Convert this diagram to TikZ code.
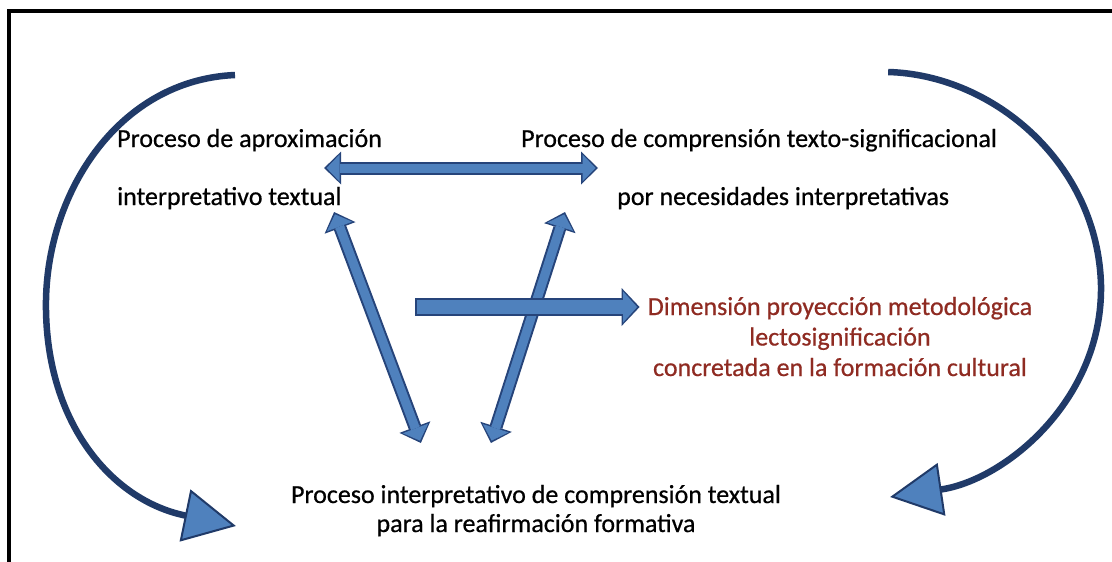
\documentclass[tikz,border=0pt]{standalone}
\usepackage{fontspec}
\setmainfont{Carlito}[FakeBold=0.6]
\usepackage{tikz}
\usetikzlibrary{arrows.meta}
\usetikzlibrary{calc}
\usetikzlibrary{positioning}

\definecolor{arcnavy}{RGB}{32,58,104}
\definecolor{boxblue}{RGB}{79,129,189}
\definecolor{edgeblue}{RGB}{38,68,122}
\definecolor{labelred}{RGB}{143,43,34}

\tikzset{proctext/.style = {inner sep=0pt, align=left,
                            font=\fontsize{26}{58}\selectfont}}
\tikzset{twoway/.style = {draw=edgeblue, line width=13pt,
                          {Triangle[length=17pt, width=33pt, line width'=0pt]}-{Triangle[length=17pt, width=33pt, line width'=0pt]},
                          postaction={draw=boxblue, line width=9pt, shorten <=2.5pt, shorten >=2.5pt,
                                      {Triangle[length=13pt, width=27pt, line width'=0pt]}-{Triangle[length=13pt, width=27pt, line width'=0pt]}}}}
\tikzset{oneway/.style = {draw=edgeblue, line width=18pt,
                          -{Triangle[length=18pt, width=38pt, line width'=0pt]},
                          postaction={draw=boxblue, line width=14pt, shorten <=2pt, shorten >=2.5pt,
                                      -{Triangle[length=14pt, width=31pt, line width'=0pt]}}}}
\tikzset{sweep/.style = {draw=arcnavy, line width=6.5pt,
                         -{Triangle[length=52pt, width=53pt, fill=boxblue, line width'=2pt]}}}

\begin{document}
\begin{tikzpicture}[x=1pt, y=-1pt]
      \useasboundingbox (0,0) rectangle (1112,562);
      \draw [line width=4pt] (9,562) -- (9,11) -- (1112,11);

      \node [proctext, anchor=base west] (aprox) at (117,205)
            {Proceso de aproximación\\interpretativo textual};
      \node [proctext, anchor=base west] (compren) at (521,205)
            {Proceso de comprensión texto-significacional\\\hspace*{96pt}por necesidades interpretativas};
      \node [proctext, anchor=base, align=center, text=labelred,
             font=\fontsize{26}{30.5}\selectfont] (dimension) at (840,376)
            {Dimensión proyección metodológica\\lectosignificación\\concretada en la formación cultural};
      \node [proctext, anchor=base, align=center,
             font=\fontsize{26}{29}\selectfont] (reafirm) at (536,532)
            {Proceso interpretativo de comprensión textual\\para la reafirmación formativa};

      % outer loops
      \draw [sweep] ($(aprox.base west)+(118,-130)$) .. controls (120,80) and (48,190) .. (46,300)
            .. controls (44,420) and (110,500) .. ($(reafirm.base west)+(-55,-6)$);
      \draw [sweep] ($(compren.base east)+(-109,-133)$) .. controls (995,75) and (1098,165) .. (1101,285)
            .. controls (1103,400) and (1005,480) .. ($(reafirm.base east)+(109,-35)$);

      \draw [twoway] ($(aprox.base east)+(-58,-37)$) -- ($(compren.base west)+(77,-37)$);
      \draw [twoway] ($(aprox.base east)+(-48,7)$) -- ($(reafirm.base west)+(130,-89)$);
      \draw [twoway] ($(compren.base west)+(44,7)$) -- ($(reafirm.base west)+(200,-89)$);

      \coordinate (hub) at (415,307);
      \draw [oneway] (hub) -- ($(dimension.base west)+(-8,-69)$);
\end{tikzpicture}
\end{document}
